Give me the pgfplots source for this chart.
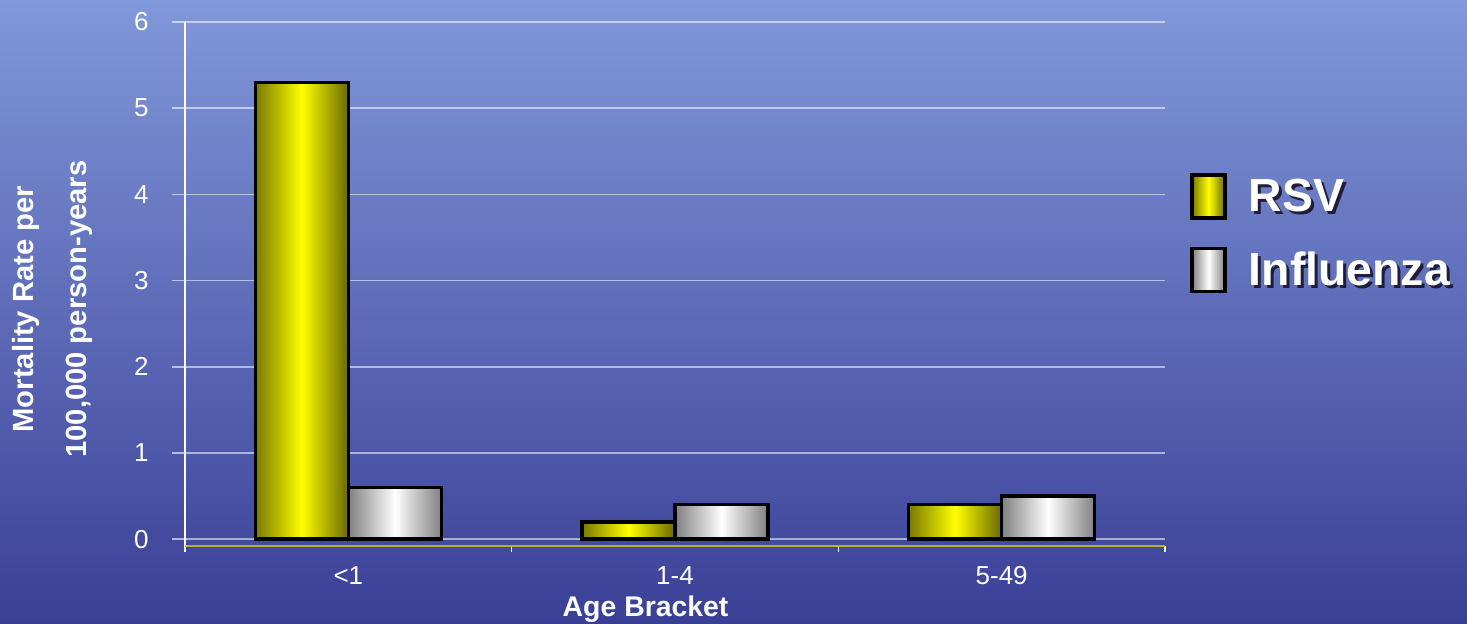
\documentclass[border=0pt]{standalone}
\usepackage{pgfplots}
\pgfplotsset{compat=1.18}
\usepackage{fontspec}
\setmainfont{Liberation Sans}
\definecolor{bgtop}{RGB}{129,152,218}
\definecolor{bgbot}{RGB}{58,63,150}
\definecolor{rsvleft}{RGB}{120,120,0}
\definecolor{rsvright}{RGB}{105,105,0}
\definecolor{flugray}{RGB}{128,128,128}
\definecolor{axisyel}{RGB}{185,175,45}
\definecolor{shadowc}{RGB}{30,30,60}
\newcommand{\sht}[1]{\makebox[0pt][l]{\hspace{1.5pt}\raisebox{-1.5pt}{\color{shadowc}#1}}#1}
\pgfplotsset{
  rsvbar/.style={ybar, bar width=0.285, bar shift=-0.1425, draw=black, line width=1.7pt,
    left color=rsvleft, right color=rsvright, middle color=yellow,
    legend image code/.code={\draw[black, line width=1.7pt, left color=rsvleft, right color=rsvright, middle color=yellow] (0pt,-10.75pt) rectangle (16.5pt,10.75pt);}},
  flubar/.style={ybar, bar width=0.285, bar shift=0.1425, draw=black, line width=1.7pt,
    left color=flugray, right color=flugray, middle color=white,
    legend image code/.code={\draw[black, line width=1.7pt, left color=flugray, right color=flugray, middle color=white] (0pt,-10.75pt) rectangle (16.5pt,10.75pt);}},
}
\begin{document}
\begin{tikzpicture}
\useasboundingbox (0,0) rectangle (733.5pt,312pt);
\shade[top color=bgtop, bottom color=bgbot] (0,0) rectangle (733.5pt,312pt);
\begin{axis}[
  at={(92.5pt,39pt)}, anchor=south west,
  scale only axis, width=490pt, height=262pt,
  xmin=-0.5, xmax=2.5, ymin=-0.08, ymax=6,
  axis x line*=bottom, axis y line*=left,
  x axis line style={axisyel, line width=1.2pt},
  y axis line style={white, line width=0.8pt},
  xtick={0,1,2}, xticklabels={{<1},{1-4},{5-49}},
  minor xtick={-0.5,0.5,1.5,2.5},
  ytick={0,1,2,3,4,5,6},
  tick align=outside,
  major x tick style={draw=none},
  minor x tick style={white, line width=0.8pt},
  minor tick length=3pt,
  major tick length=6.5pt,
  ytick style={white, opacity=0.6, line width=0.8pt},
  ymajorgrids,
  major grid style={white, opacity=0.55, line width=0.8pt},
  /pgf/number format/assume math mode=true,
  ticklabel style={font=\fontsize{13}{15}\selectfont, text=white},
  xticklabel style={anchor=base, yshift=-13pt},
  yticklabel style={anchor=east, inner sep=0pt, xshift=-11.5pt},
  xlabel={Age Bracket},
  every axis x label/.style={at={(rel axis cs:0.47,0)}, anchor=base, yshift=-35.5pt, font=\bfseries\fontsize{14.2}{17}\selectfont, text=white},
  ylabel={Mortality Rate per\\100,000 person-years},
  every axis y label/.style={at={(rel axis cs:0,0.452)}, xshift=-66.5pt, rotate=90, anchor=center, align=center, font=\bfseries\fontsize{14.6}{26.5}\selectfont, text=white},
  legend style={at={(1.0255,0.597)}, anchor=west, draw=none, fill=none,
    font=\bfseries\fontsize{23.2}{27}\selectfont, text=white,
    row sep=13.5pt, column sep=11pt, inner sep=0pt, nodes={inner sep=0pt}},
  legend cell align=left,
]
% <1
\addplot[rsvbar] coordinates {(0,5.3)};
\addplot[flubar] coordinates {(0,0.6)};
% 1-4 and 5-49
\addplot[rsvbar, forget plot] coordinates {(1,0.2)};
\addplot[rsvbar, forget plot] coordinates {(2,0.4)};
\addplot[flubar, forget plot] coordinates {(1,0.4)};
\addplot[flubar, forget plot] coordinates {(2,0.5)};
\legend{\sht{RSV},\sht{Influenza}}
\end{axis}
\end{tikzpicture}
\end{document}
